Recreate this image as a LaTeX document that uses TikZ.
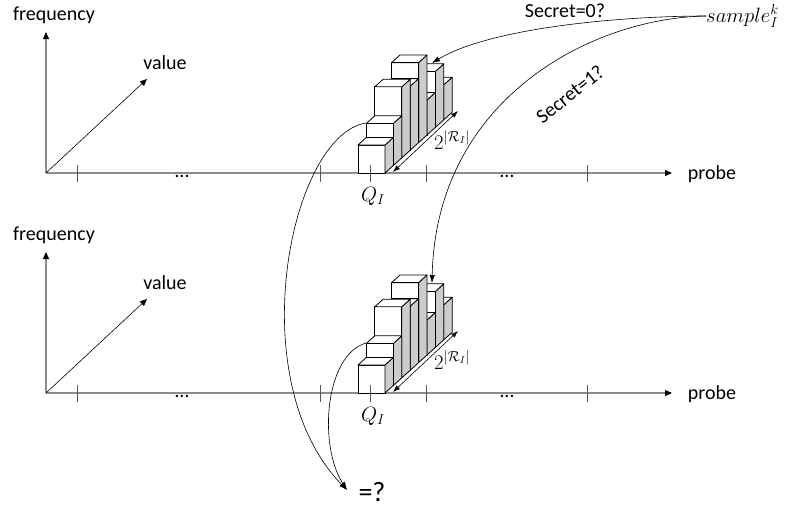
\documentclass[tikz,border=0pt]{standalone}
\usepackage{fontspec}
\setmainfont{Carlito}
\usetikzlibrary{arrows.meta}
\begin{document}
\begin{tikzpicture}[x=1pt,y=-1pt,
  axis/.style={draw=black!45, line width=1.3pt},
  axarrow/.style={-{Triangle[length=7pt,width=6pt,color=black]}},
  tickmark/.style={draw=black!65, line width=0.9pt},
  thinline/.style={draw=black, line width=0.6pt},
  arr/.style={-{Latex[length=8pt,width=5.5pt]}},
  dimarr/.style={{Latex[length=7pt,width=5pt]}-{Latex[length=7pt,width=5pt]}},
  lbl/.style={font=\fontsize{20}{24}\selectfont, inner sep=0pt},
  face/.style={draw=black, line width=0.8pt, fill=white, line join=round},
  side/.style={draw=black, line width=0.8pt, fill=black!20, line join=round},
  ]
\useasboundingbox (0,0) rectangle (790,509);

\foreach \c/\Y in {a/173,b/393}{
  \coordinate (o\c) at (46,\Y);
  \coordinate (fy\c) at (46,\Y-141);
  \coordinate (vl\c) at (147,\Y-94);
  \coordinate (px\c) at (672,\Y);
  \draw[axis, axarrow] (o\c) -- (fy\c);
  \draw[axis, axarrow] (o\c) -- (px\c);
  \draw[thinline, axarrow] (o\c) -- (vl\c);
  \node[lbl] (freq\c) at (54,\Y-158) {frequency};
  \node[lbl] (val\c) at (165,\Y-110) {value};
  \node[lbl] (probe\c) at (712,\Y+1) {probe};
  \node[lbl] (dl\c) at (182,\Y+3) {…};
  \node[lbl] (dr\c) at (507,\Y+3) {…};
  \node[lbl] (q\c) at (373,\Y+23) {$Q_I$};
  % bars, back to front
  \foreach \i/\h in {7/35,6/56,5/35,4/80,3/64,2/71,1/42,0/28}{
    \pgfmathsetmacro\bx{358+8.4*\i}
    \pgfmathsetmacro\by{\Y-7.6*\i}
    \pgfmathsetmacro\bt{\by-\h}
    \draw[face] (\bx,\by) rectangle (\bx+27,\bt);
    \draw[side] (\bx+27,\by) -- (\bx+27,\bt) -- (\bx+35.4,\bt-7.6) -- (\bx+35.4,\by-7.6) -- cycle;
    \draw[face] (\bx,\bt) -- (\bx+27,\bt) -- (\bx+35.4,\bt-7.6) -- (\bx+8.4,\bt-7.6) -- cycle;
  }
  \foreach \t in {77,320,370,426,587}{
    \draw[tickmark] (\t,\Y-8) -- (\t,\Y+9);
  }
  \coordinate (da\c) at (393,\Y-1);
  \coordinate (db\c) at (458,\Y-62);
  \draw[thinline, dimarr] (da\c) -- (db\c);
  \node[lbl] (dim\c) at (452,\Y-33) {$2^{|\mathcal{R}_I|}$};
  \coordinate (tip\c) at (432,\Y-110);
  \coordinate (src\c) at (366,\Y-50);
}

\node[lbl, anchor=west] (smp) at (706,16) {$sample_I^k$};
\draw[thinline, arr] (smp.west) .. controls (620,16) and (490,28) .. (tipa);
\node[lbl] (s0) at (565,11) {Secret=0?};
\draw[thinline, arr] (smp.west) .. controls (590,18) and (436,100) .. (tipb);
\node[lbl, rotate=38] (s1) at (570,94) {Secret=1?};

\node[font=\fontsize{28}{32}\selectfont, inner sep=0pt] (eq) at (372,492) {=?};
\coordinate (eqin) at (347,490);
\draw[thinline, arr] (srca) .. controls (290,135) and (240,380) .. (eqin);
\draw[thinline, arr] (srcb) .. controls (325,355) and (318,445) .. (eqin);
\end{tikzpicture}
\end{document}
